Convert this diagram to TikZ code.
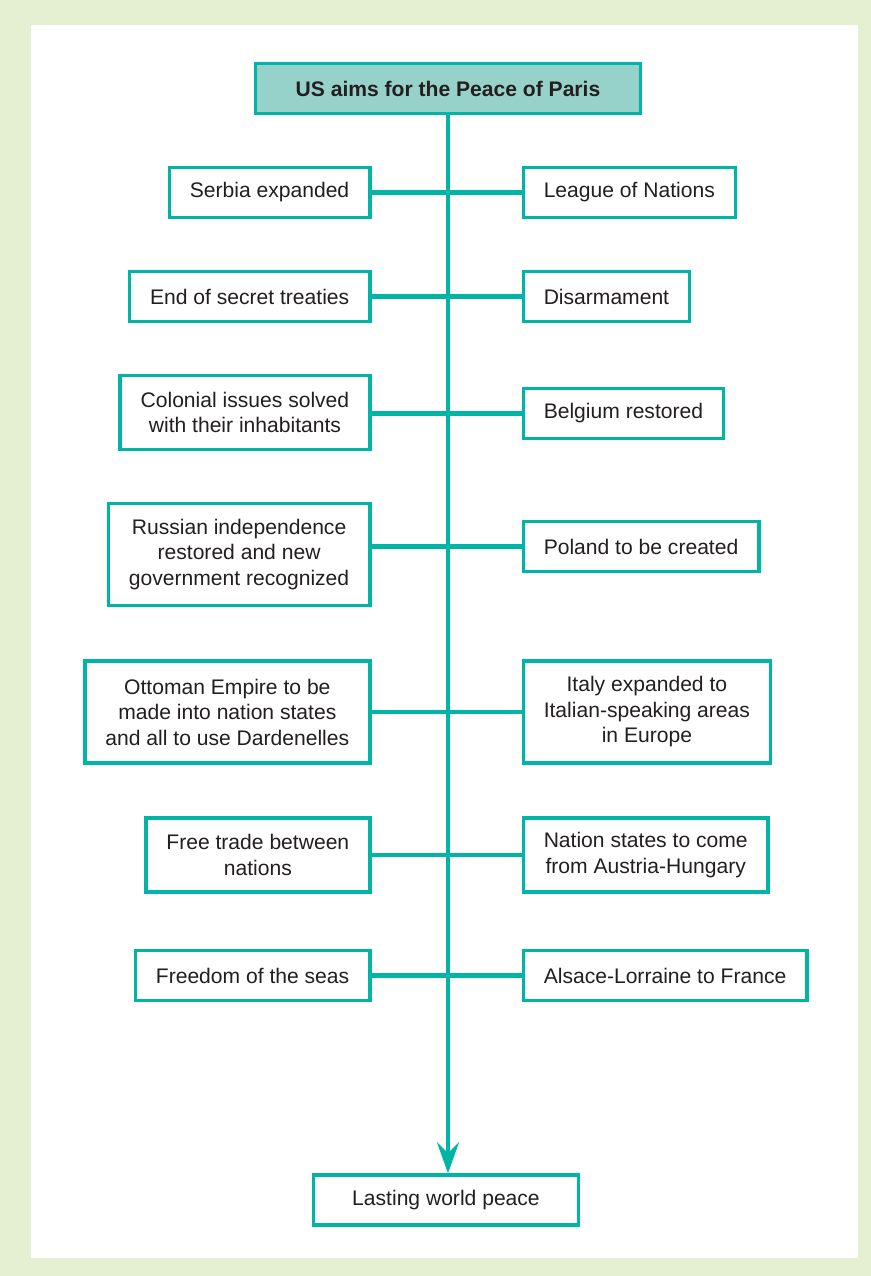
\documentclass[tikz,border=0pt]{standalone}
\usepackage{fontspec}
\setmainfont{Liberation Sans}
\usetikzlibrary{arrows.meta}
\definecolor{aimteal}{RGB}{0,180,166}
\definecolor{aimfill}{RGB}{150,210,202}
\definecolor{aimframe}{RGB}{229,240,210}
\definecolor{aimtext}{RGB}{35,31,32}
\tikzset{
	aim/.style={draw=aimteal, line width=2pt, fill=white, text=aimtext, align=center,
		inner xsep=0.41cm, inner ysep=0pt, minimum height=1.0cm,
		font=\fontsize{12}{14.5}\selectfont},
	twoline/.style={minimum height=1.48cm},
	threeline/.style={minimum height=2.04cm},
	link/.style={draw=aimteal, line width=2.4pt},
	trunk/.style={draw=aimteal, line width=2.7pt, -{Stealth[length=0.62cm,width=0.44cm,inset=0.22cm]}}
}

\begin{document}
\begin{tikzpicture}[x=0.02cm, y=-0.02cm]
			%%%%% START %%%%%
			
			\fill[aimframe] (0, 0) rectangle (871, 1276);
			\fill[white] (31, 25) rectangle (858, 1258);
			
			\node[aim, fill=aimfill, minimum width=7.7cm, font=\bfseries\fontsize{12}{14.5}\selectfont] (title) at (448, 88.5) {US aims for the Peace of Paris};
			\node[aim, minimum width=5.3cm] (peace) at (446, 1200) {Lasting world peace};
			
			\node[aim, anchor=east] (serbia) at (371.5, 192.5) {Serbia expanded};
			\node[aim, anchor=west] (league) at (521.5, 192.5) {League of Nations};
			
			\node[aim, anchor=east] (secret) at (371.5, 296.5) {End of secret treaties};
			\node[aim, anchor=west] (disarm) at (521.5, 296.5) {Disarmament};
			
			\node[aim, twoline, anchor=east] (colonial) at (371.5, 412.5) {Colonial issues solved\\with their inhabitants};
			\node[aim, anchor=west] (belgium) at (521.5, 413.5) {Belgium restored};
			
			\node[aim, threeline, anchor=east] (russia) at (371.5, 554.5) {Russian independence\\restored and new\\government recognized};
			\node[aim, anchor=west] (poland) at (521.5, 546.5) {Poland to be created};
			
			\node[aim, threeline, anchor=east] (ottoman) at (371.5, 712) {Ottoman Empire to be\\made into nation states\\and all to use Dardenelles};
			\node[aim, threeline, anchor=west] (italy) at (521.5, 712) {Italy expanded to\\Italian-speaking areas\\in Europe};
			
			\node[aim, twoline, anchor=east] (freetrade) at (371.5, 855) {Free trade between\\nations};
			\node[aim, twoline, anchor=west] (austria) at (521.5, 855) {Nation states to come\\from Austria-Hungary};
			
			\node[aim, anchor=east] (seas) at (371.5, 975.5) {Freedom of the seas};
			\node[aim, anchor=west] (alsace) at (521.5, 975.5) {Alsace-Lorraine to France};
			
			\draw[trunk] (title.south) -- (title.south |- peace.north);
			
			\foreach \lft/\rgt in {serbia/league, secret/disarm, colonial/belgium, russia/poland, ottoman/italy, freetrade/austria, seas/alsace}
				\draw[link] (\lft.east |- \rgt.west) -- (\rgt.west);
			
			%%%%% END %%%%%
\end{tikzpicture}
\end{document}
